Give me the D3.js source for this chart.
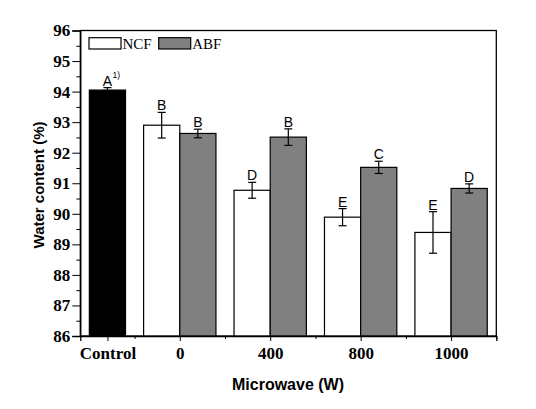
<!DOCTYPE html>
<html><head><meta charset="utf-8">
<script src="https://cdn.jsdelivr.net/npm/d3@7"></script>
<style>body{margin:0;background:#fff}</style>
</head><body>
<svg id="c" width="536" height="409"></svg>
<script>
const categories = ["Control","0","400","800","1000"];
const catPos = [0.2, 1, 2, 3, 4];
const controlValue = 94.05, controlErr = 0.08;
const ncfValues = [null, 92.90, 90.77, 89.89, 89.39];
const ncfErrors = [null, 0.42, 0.26, 0.28, 0.68];
const abfValues = [null, 92.63, 92.51, 91.52, 90.83];
const abfErrors = [null, 0.14, 0.27, 0.20, 0.15];
const ncfLetters = ["", "B", "D", "E", "E"];
const abfLetters = ["", "B", "B", "C", "D"];
const controlLetter = "A";
const yTicks = [86,87,88,89,90,91,92,93,94,95,96];

const svg = d3.select("#c");
const L = 80.3, R = 496.3, T = 30.5, B = 336;
const x = d3.scaleLinear().domain([-0.1, 4.5]).range([L, R]);
const y = d3.scaleLinear().domain([86, 96]).range([B, T]);
const bw = 0.4;

// frame
svg.append("rect").attr("x", L).attr("y", T).attr("width", R-L).attr("height", B-T)
  .attr("fill","none").attr("stroke","#000").attr("stroke-width",1.3);

// bars
const bars = [];
bars.push({c0: catPos[0]-bw/2, v: controlValue, e: controlErr, fill:"#000", lab: controlLetter, sup:"1)"});
for (let i=1;i<categories.length;i++){
  bars.push({c0: catPos[i]-bw, v: ncfValues[i], e: ncfErrors[i], fill:"#fff", lab: ncfLetters[i]});
  bars.push({c0: catPos[i], v: abfValues[i], e: abfErrors[i], fill:"#808080", lab: abfLetters[i]});
}
const g = svg.append("g");
bars.forEach(b => {
  const x0 = x(b.c0), x1 = x(b.c0+bw), cx = (x0+x1)/2;
  g.append("rect").attr("x", x0).attr("y", y(b.v)).attr("width", x1-x0).attr("height", y(86)-y(b.v))
    .attr("fill", b.fill).attr("stroke","#000").attr("stroke-width",1.2);
  const et = y(b.v+b.e), eb = y(b.v-b.e);
  g.append("line").attr("x1",cx).attr("x2",cx).attr("y1",et).attr("y2",eb).attr("stroke","#000").attr("stroke-width",1.2);
  [et, eb].forEach(yy => g.append("line").attr("x1",cx-4).attr("x2",cx+4).attr("y1",yy).attr("y2",yy)
    .attr("stroke","#000").attr("stroke-width",1.2));
  g.append("text").attr("x",cx).attr("y",et-2).attr("text-anchor","middle")
    .attr("font-family","'Liberation Sans', Arial, sans-serif").attr("font-size",14).text(b.lab);
  if (b.sup) g.append("text").attr("x",cx+5).attr("y",et-9.5)
    .attr("font-family","'Liberation Sans', Arial, sans-serif").attr("font-size",8.5).text(b.sup);
});

// y axis
const ya = svg.append("g").attr("transform",`translate(${L},0)`)
  .call(d3.axisLeft(y).tickValues(yTicks).tickSize(8).tickPadding(2).tickFormat(d3.format("d")));
ya.select(".domain").attr("stroke","#000").attr("stroke-width",1.3);
ya.selectAll("text").attr("font-family","'Liberation Serif', 'Times New Roman', serif")
  .attr("font-weight","bold").attr("font-size",17).attr("fill","#000");
const yMinor = d3.range(86.5, 96, 1);
svg.append("g").attr("transform",`translate(${L},0)`)
  .call(d3.axisLeft(y).tickValues(yMinor).tickSize(4).tickFormat(""))
  .select(".domain").remove();

// x axis
const xa = svg.append("g").attr("transform",`translate(0,${B})`)
  .call(d3.axisBottom(x).tickValues(catPos).tickSize(5).tickPadding(6).tickFormat((d,i)=>categories[i]));
xa.select(".domain").attr("stroke","#000").attr("stroke-width",1.3);
xa.selectAll("text").attr("font-family","'Liberation Serif', 'Times New Roman', serif")
  .attr("font-weight","bold").attr("font-size",17).attr("fill","#000");
const xMinor = [0.5,1.5,2.5,3.5,4.5];
svg.append("g").attr("transform",`translate(0,${B})`)
  .call(d3.axisBottom(x).tickValues(xMinor).tickSize(3).tickFormat(""))
  .select(".domain").remove();

// titles
svg.append("text").attr("transform","translate(44,185) rotate(-90)").attr("text-anchor","middle")
  .attr("font-family","'Liberation Sans', Arial, sans-serif").attr("font-weight","bold").attr("font-size",15)
  .text("Water content (%)");
svg.append("text").attr("x",288).attr("y",390).attr("text-anchor","middle")
  .attr("font-family","'Liberation Sans', Arial, sans-serif").attr("font-weight","bold").attr("font-size",16)
  .text("Microwave (W)");

// legend
const legend = [{name:"NCF", fill:"#fff", x:89}, {name:"ABF", fill:"#808080", x:158.7}];
legend.forEach(l => {
  svg.append("rect").attr("x", l.x).attr("y", 37.7).attr("width", 32).attr("height", 11.3)
    .attr("fill", l.fill).attr("stroke","#000").attr("stroke-width",1.2);
  svg.append("text").attr("x", l.x+33.5).attr("y", 48.5)
    .attr("font-family","'Liberation Serif', 'Times New Roman', serif").attr("font-size",15).text(l.name);
});
</script>
</body></html>
